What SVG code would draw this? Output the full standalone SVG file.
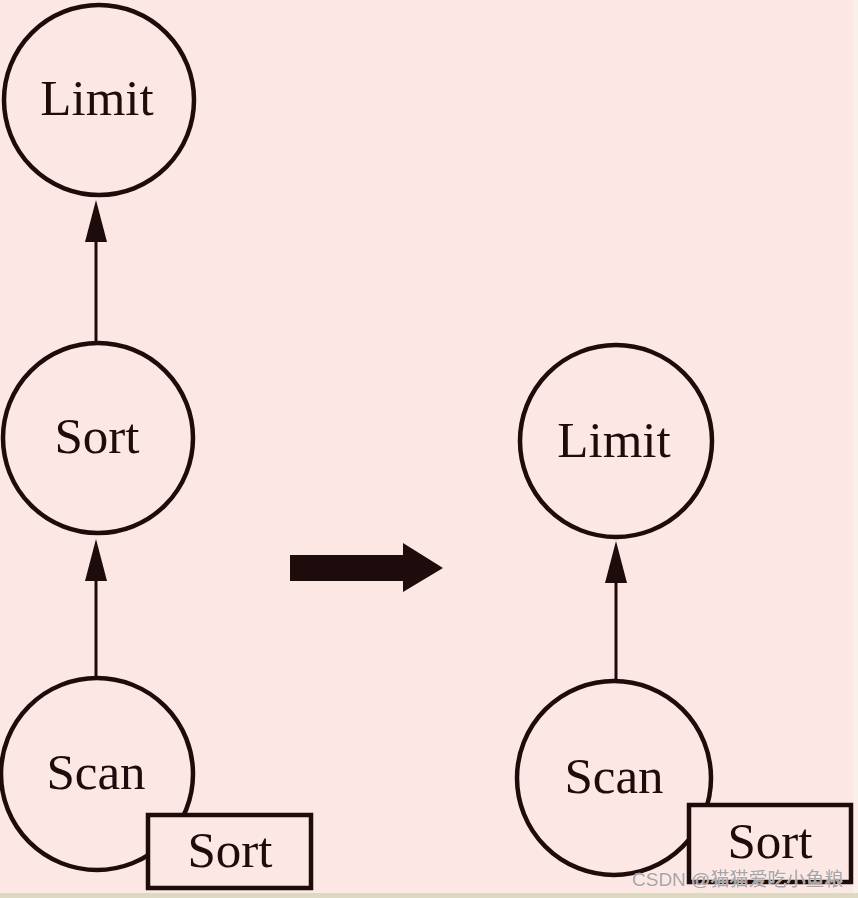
<svg xmlns="http://www.w3.org/2000/svg" width="858" height="898" viewBox="0 0 858 898">
<defs>
<style>
.node{fill:#fde7e5;stroke:#1e0b0b;stroke-width:4.5}
.lbl{font-family:"Liberation Serif","Times New Roman",serif;font-size:51px;fill:#1e0b0b;text-anchor:middle}
.edge{stroke:#1e0b0b;stroke-width:3;fill:none}
.head{fill:#1e0b0b}
.wm{font-family:"Liberation Sans","Noto Sans CJK SC",sans-serif;font-size:19px;fill:#a9a3a3;stroke:#ffffff;stroke-width:0.6;paint-order:stroke}
</style>
</defs>
<rect x="0" y="0" width="858" height="898" fill="#fde7e5"/>
<rect x="853" y="0" width="5" height="893" fill="#fbefec"/>
<rect x="0" y="893" width="858" height="5" fill="#dcd8c2"/>

<g id="connectors">
<line class="edge" x1="96" y1="240" x2="96" y2="342"/>
<polygon class="head" points="96,200 85,242 107,242"/>
<line class="edge" x1="96" y1="580" x2="96" y2="677"/>
<polygon class="head" points="96,539 85,581 107,581"/>
<line class="edge" x1="616" y1="580" x2="616" y2="681"/>
<polygon class="head" points="616,541 605,583 627,583"/>
</g>

<g id="transform-arrow">
<polygon class="head" points="290,555 403,555 403,543 443,568 403,592 403,581 290,581"/>
</g>

<g id="left-limit">
<circle class="node" cx="99" cy="100" r="95"/>
<text class="lbl" x="97" y="115">Limit</text>
</g>
<g id="left-sort">
<circle class="node" cx="98" cy="438" r="95"/>
<text class="lbl" x="97" y="453">Sort</text>
</g>
<g id="left-scan">
<circle class="node" cx="97" cy="774" r="96"/>
<text class="lbl" x="96" y="789">Scan</text>
</g>
<g id="left-sort-box">
<rect class="node" x="148" y="815" width="163" height="73"/>
<text class="lbl" x="230" y="867">Sort</text>
</g>

<g id="right-limit">
<circle class="node" cx="616" cy="441" r="96"/>
<text class="lbl" x="614" y="457">Limit</text>
</g>
<g id="right-scan">
<circle class="node" cx="614" cy="778" r="97"/>
<text class="lbl" x="614" y="793">Scan</text>
</g>
<g id="right-sort-box">
<rect class="node" x="689" y="805" width="162" height="77"/>
<text class="lbl" x="770" y="858">Sort</text>
</g>

<text class="wm" x="632" y="886">CSDN @猫猫爱吃小鱼粮</text>
</svg>
